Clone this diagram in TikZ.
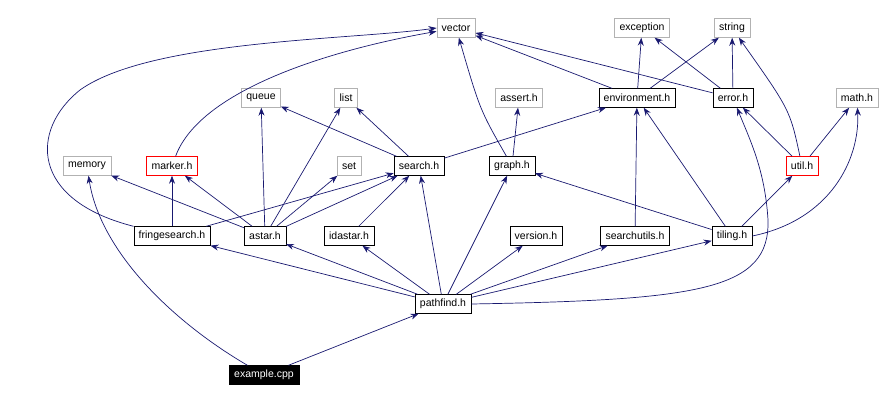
\documentclass[tikz,border=0pt]{standalone}
\usepackage{fontspec}
\setmainfont{Liberation Sans}
\usetikzlibrary{arrows.meta,positioning}
\definecolor{edge_blue}{RGB}{25,25,112}
\tikzset{
  inc/.style = {draw, rectangle, minimum height=19pt, inner xsep=5pt, inner ysep=1pt, fill=white, font=\fontsize{10.5}{12}\selectfont},
  ext/.style = {inc, draw=gray!60},
  loc/.style = {inc, draw=black},
  bad/.style = {inc, draw=red},
  top/.style = {inc, draw=black, fill=black, text=white}
}
\begin{document}
\begin{tikzpicture}[x=1pt,y=-1pt,
    dep/.style={-{Stealth[length=8pt,width=6pt]}, edge_blue, line width=0.7pt}]
  \useasboundingbox (0,0) rectangle (888,401);
  % external headers
  \node [ext] (vector) at (456,28) {vector};
  \node [ext] (exception) at (642,28) {exception};
  \node [ext] (string) at (732,28) {string};
  \node [ext] (queue) at (261,98) {queue};
  \node [ext] (list) at (346,98) {list};
  \node [ext] (assert) at (519,98) {assert.h};
  \node [ext] (math) at (857,98) {math.h};
  \node [ext] (memory) at (87,166) {memory};
  \node [ext] (set) at (349,166) {set};
  % local headers
  \node [loc] (environment) at (637,98) {environment.h};
  \node [loc] (error) at (733,98) {error.h};
  \node [bad] (marker) at (172,166) {marker.h};
  \node [loc] (search) at (419,166) {search.h};
  \node [loc] (graph) at (512,166) {graph.h};
  \node [bad] (util) at (802,166) {util.h};
  \node [loc] (fringe) at (172,236) {fringesearch.h};
  \node [loc] (astar) at (265,236) {astar.h};
  \node [loc] (idastar) at (349,236) {idastar.h};
  \node [loc] (version) at (536,236) {version.h};
  \node [loc] (searchutils) at (635,236) {searchutils.h};
  \node [loc] (tiling) at (732,236) {tiling.h};
  \node [loc] (pathfind) at (443,304) {pathfind.h};
  \node [top] (example) at (264,375) {example.cpp};
  % includes
  \draw [dep] (example) -- (pathfind);
  \draw [dep] (example) .. controls (170,320) and (100,250) .. (memory);
  \foreach \t in {fringe,astar,idastar,search,graph,version,searchutils,tiling}
    \draw [dep] (pathfind) -- (\t);
  \draw [dep] (pathfind.east) .. controls (700,300) and (770,290) .. (768,220) .. controls (765,170) and (750,140) .. (error);
  \draw [dep] (fringe) -- (marker);
  \draw [dep] (fringe) -- (search);
  \draw [dep] (fringe.north west) .. controls (30,200) and (30,130) .. (80,90) .. controls (150,40) and (350,40) .. (vector.west);
  \draw [dep] (astar) -- (memory);
  \draw [dep] (astar) -- (marker);
  \draw [dep] (astar) -- (queue);
  \draw [dep] (astar) -- (list);
  \draw [dep] (astar) -- (set);
  \draw [dep] (astar) -- (search);
  \draw [dep] (idastar) -- (search);
  \draw [dep] (marker) .. controls (200,90) and (330,50) .. (vector);
  \draw [dep] (search) -- (queue);
  \draw [dep] (search) -- (list);
  \draw [dep] (search) -- (environment);
  \draw [dep] (graph) -- (assert);
  \draw [dep] (graph) .. controls (480,110) .. (vector);
  \draw [dep] (environment) -- (vector);
  \draw [dep] (environment) -- (exception);
  \draw [dep] (environment) -- (string);
  \draw [dep] (error) -- (vector);
  \draw [dep] (error) -- (exception);
  \draw [dep] (error) -- (string);
  \draw [dep] (util) -- (error);
  \draw [dep] (util) -- (math);
  \draw [dep] (util) .. controls (790,110) .. (string);
  \draw [dep] (searchutils) -- (environment);
  \draw [dep] (tiling) -- (graph);
  \draw [dep] (tiling) -- (environment);
  \draw [dep] (tiling) -- (util);
  \draw [dep] (tiling.east) .. controls (830,220) and (860,160) .. (math);
\end{tikzpicture}
\end{document}
